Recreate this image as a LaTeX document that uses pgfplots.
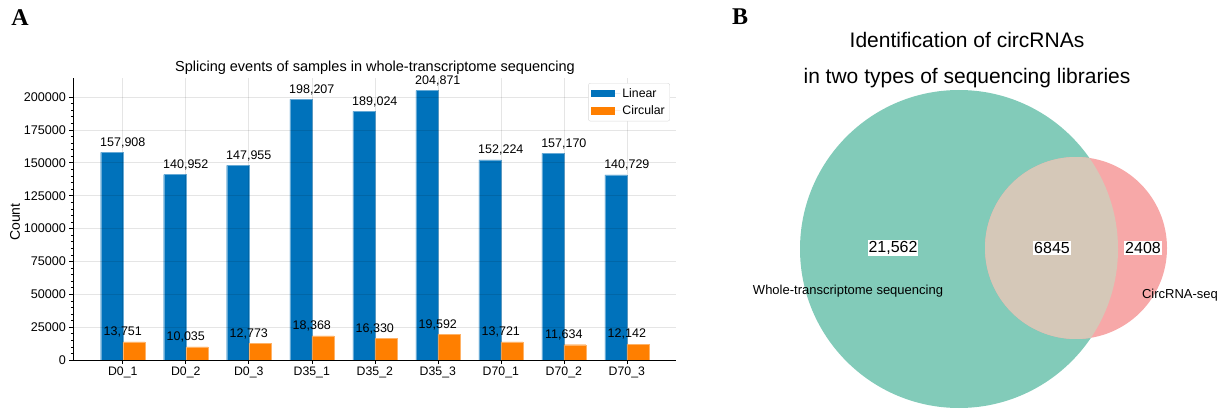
\documentclass[border=0pt]{standalone}
\usepackage{pgfplots}
\pgfplotsset{compat=1.18}
\usepackage{fontspec}
\setmainfont{Liberation Sans}
\newfontfamily\panelfont{Liberation Serif}

\definecolor{linearblue}{RGB}{0,114,187}
\definecolor{circorange}{RGB}{255,127,0}
\definecolor{vgreen}{RGB}{130,203,185}
\definecolor{vpink}{RGB}{247,168,168}
\definecolor{vtan}{RGB}{213,200,184}

\newcommand{\fs}[1]{\fontsize{#1}{#1}\selectfont}

\begin{document}
\begin{tikzpicture}
\path[use as bounding box] (0pt,0pt) rectangle (1226pt,410pt);

% ---------------- Panel A: splicing events ----------------
\begin{axis}[
  at={(73pt,50pt)}, anchor=south west, scale only axis,
  width=603pt, height=282pt,
  xmin=-0.79, xmax=8.78, ymin=0, ymax=214500,
  axis x line*=bottom, axis y line*=left,
  axis line style={black, line width=0.8pt},
  axis on top,
  xtick={0,...,8},
  xticklabels={D0\_1,D0\_2,D0\_3,D35\_1,D35\_2,D35\_3,D70\_1,D70\_2,D70\_3},
  ytick={0,25000,...,200000},
  minor y tick num=4,
  scaled y ticks=false,
  yticklabel style={font=\fs{12.6}, /pgf/number format/fixed,
    /pgf/number format/1000 sep={}, /pgf/number format/assume math mode=true},
  xticklabel style={font=\fs{12.3}},
  tick align=outside,
  major tick length=3.5pt, minor tick length=2pt,
  tick style={black, line width=0.6pt},
  grid=major,
  major grid style={black, opacity=0.1, line width=0.6pt},
  legend style={at={(0.99,0.982)}, anchor=north east, draw=black!15,
    rounded corners=2pt, font=\fs{12.3}, inner sep=3pt,
    row sep=3pt, cells={anchor=west}},
  point meta=y,
  nodes near coords={\pgfmathprintnumber[fixed,precision=0,1000 sep={,},assume math mode=true]{\pgfplotspointmeta}},
  every node near coord/.append style={font=\fs{12.5}, black, yshift=1pt},
]
\addplot[ybar, bar width=0.35, bar shift=-0.175, fill=linearblue,
  draw=linearblue!60!white, line width=0.4pt,
  legend image code/.code={\fill[linearblue, draw=none, sharp corners] (0pt,-3.8pt) rectangle (24pt,3.8pt);
    \path[draw=none] (0pt,0pt) -- (29pt,0pt);}]
  coordinates {(0,157908) (1,140952) (2,147955) (3,198207) (4,189024)
               (5,204871) (6,152224) (7,157170) (8,140729)};
\addlegendentry{Linear}
\addplot[ybar, bar width=0.35, bar shift=0.175, fill=circorange,
  draw=circorange!60!white, line width=0.4pt,
  legend image code/.code={\fill[circorange, draw=none, sharp corners] (0pt,-3.8pt) rectangle (24pt,3.8pt);
    \path[draw=none] (0pt,0pt) -- (29pt,0pt);}]
  coordinates {(0,13751) (1,10035) (2,12773) (3,18368) (4,16330)
               (5,19592) (6,13721) (7,11634) (8,12142)};
\addlegendentry{Circular}
\end{axis}

\node[font=\fs{14.5}, anchor=base] at (375pt,338pt)
  {Splicing events of samples in whole-transcriptome sequencing};
\node[font=\fs{14}, rotate=90] at (15pt,188pt) {Count};
\node[font=\panelfont\bfseries\fs{24}] at (20pt,392pt) {A};

% ---------------- Panel B: Venn diagram ----------------
\begin{axis}[
  at={(720pt,0pt)}, anchor=south west, scale only axis,
  width=506pt, height=410pt,
  xmin=720, xmax=1226, ymin=0, ymax=410,
  hide axis, clip=false,
]
\fill[vgreen] (axis cs:959,161) circle[radius=159];
\fill[vpink] (axis cs:1076,162) circle[radius=91];
\begin{scope}
  \clip (axis cs:959,161) circle[radius=159];
  \fill[vtan] (axis cs:1076,162) circle[radius=91];
\end{scope}
\node[font=\fs{16}, fill=white, inner sep=1pt] at (axis cs:893,162) {21,562};
\node[font=\fs{16}, fill=white, inner sep=1pt] at (axis cs:1052,162) {6845};
\node[font=\fs{16}, fill=white, inner sep=1pt] at (axis cs:1143,162) {2408};
\node[font=\fs{13}] at (axis cs:848,119) {Whole-transcriptome sequencing};
\node[font=\fs{13}] at (axis cs:1180,115) {CircRNA-seq};
\end{axis}

\node[font=\fs{21}] at (967pt,370pt) {Identification of circRNAs};
\node[font=\fs{21}] at (967pt,332pt) {in two types of sequencing libraries};
\node[font=\panelfont\bfseries\fs{24}] at (740pt,393pt) {B};
\end{tikzpicture}
\end{document}
